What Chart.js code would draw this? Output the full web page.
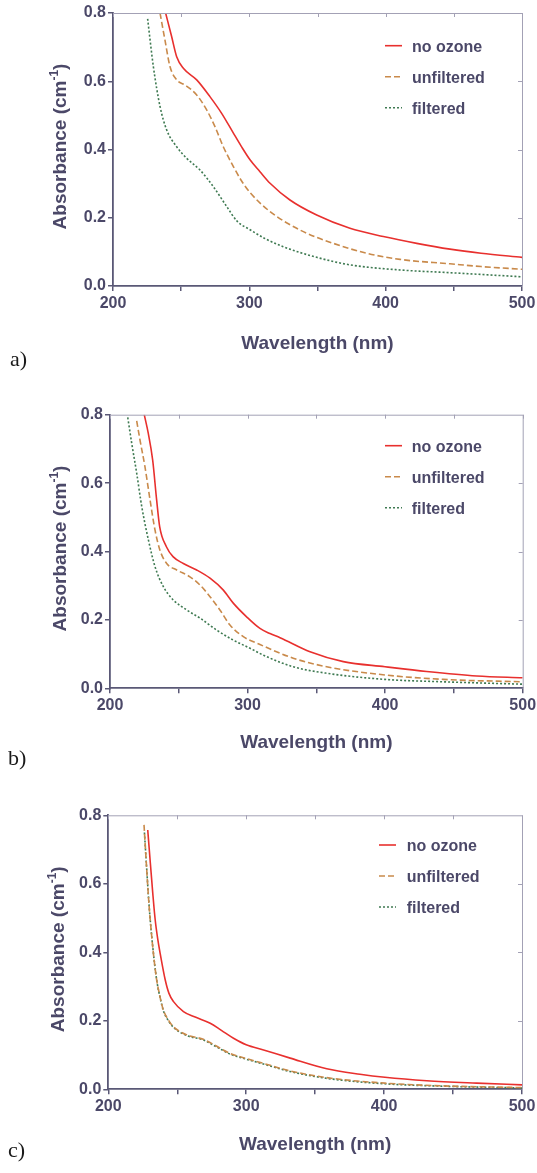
<!DOCTYPE html>
<html>
<head>
<meta charset="utf-8">
<script src="https://cdn.jsdelivr.net/npm/chart.js@4"></script>
<style>
  body { margin: 0; background: #fff; }
  #wrap { position: relative; width: 537px; height: 1173px; }
  canvas { position: absolute; left: 0; }
</style>
</head>
<body>
<div id="wrap">
  <canvas id="chartA" width="537" height="390" style="top:0px"></canvas>
  <canvas id="chartB" width="537" height="395" style="top:390px"></canvas>
  <canvas id="chartC" width="537" height="388" style="top:785px"></canvas>
</div>
<script>
// series names and tick labels
const seriesNames = ['no ozone', 'unfiltered', 'filtered'];
const xTicks = [200, 250, 300, 350, 400, 450, 500];
const xTickLabels = ['200', '', '300', '', '400', '', '500'];
const yTicks = [0, 0.2, 0.4, 0.6, 0.8];
const yTickLabels = ['0.0', '0.2', '0.4', '0.6', '0.8'];

// [wavelength nm, absorbance cm-1]
// panel a)
const aNoOzone = [[238.6,0.80],[243,0.731],[246.7,0.672],[251.6,0.638],[261.4,0.604],[271.1,0.555],[279.7,0.506],[288.3,0.448],[294,0.41],[300.5,0.370],[307.8,0.335],[315.2,0.301],[329.8,0.252],[349.4,0.208],[373.8,0.169],[398.3,0.145],[422.8,0.125],[447.2,0.108],[470,0.096],[500,0.084]];
const aUnfiltered = [[234.5,0.80],[238.1,0.721],[241.8,0.643],[246.7,0.604],[252.8,0.589],[261.4,0.560],[268.7,0.516],[274.8,0.467],[280.9,0.408],[288.3,0.350],[294,0.31],[300.5,0.274],[315.2,0.218],[337.2,0.164],[361.6,0.125],[386.1,0.096],[410.5,0.078],[447.2,0.065],[470,0.057],[500,0.049]];
const aFiltered = [[225.4,0.783],[229.6,0.643],[234.5,0.526],[239.4,0.457],[246.7,0.408],[254.1,0.374],[263.8,0.340],[273.6,0.291],[283.4,0.233],[291,0.19],[300.5,0.165],[312,0.138],[324.9,0.115],[349.4,0.084],[373.8,0.062],[410.5,0.047],[447.2,0.039],[500,0.027]];
// panel b)
const bNoOzone = [[224.9,0.80],[227.8,0.746],[231,0.668],[233.9,0.551],[236.1,0.473],[241,0.414],[245.8,0.385],[253.3,0.365],[263,0.346],[272.7,0.322],[282.4,0.287],[289.6,0.249],[299.3,0.209],[309,0.175],[316.3,0.160],[323.6,0.148],[345.4,0.107],[369.6,0.078],[399.9,0.063],[430.2,0.049],[466.6,0.036],[500,0.031]];
const bUnfiltered = [[219.4,0.782],[221.8,0.726],[225.4,0.648],[229.1,0.551],[232.7,0.463],[236.3,0.404],[241.2,0.365],[248.5,0.346],[258.1,0.326],[265.4,0.302],[272.7,0.268],[279.9,0.229],[287.2,0.185],[296.9,0.151],[309,0.128],[333.2,0.088],[357.5,0.063],[399.9,0.039],[442.3,0.026],[500,0.019]];
const bFiltered = [[212.9,0.792],[215.8,0.716],[219.4,0.629],[223.1,0.531],[227.9,0.434],[232.7,0.356],[238.8,0.297],[246.1,0.258],[255.8,0.229],[265.5,0.205],[277.6,0.170],[289.6,0.141],[301.8,0.117],[312,0.096],[333.2,0.063],[357.5,0.044],[399.9,0.026],[442.3,0.019],[500,0.012]];
// panel c)
const cNoOzone = [[228.6,0.757],[230.5,0.66],[232.3,0.57],[234,0.495],[235.8,0.44],[237.6,0.397],[241.3,0.319],[244,0.28],[247.3,0.256],[254.5,0.227],[263,0.211],[273.9,0.193],[282,0.172],[290.8,0.149],[300,0.130],[312.6,0.115],[331.9,0.091],[358.4,0.060],[382.5,0.044],[400.6,0.035],[430.9,0.025],[467.1,0.018],[500,0.013]];
const cUnfiltered = [[225.9,0.772],[227.8,0.645],[229.5,0.54],[231.5,0.446],[233.3,0.375],[235.1,0.319],[237.5,0.27],[239.9,0.232],[243.5,0.203],[247.1,0.183],[256.8,0.159],[268.9,0.146],[278,0.127],[288.2,0.105],[300,0.090],[312.3,0.076],[331.6,0.054],[358.4,0.034],[400.6,0.018],[442.7,0.010],[500,0.005]];
const cFiltered = [[226.2,0.75],[227.9,0.64],[229.6,0.535],[231.6,0.442],[233.4,0.372],[235.2,0.316],[237.6,0.267],[240,0.229],[243.6,0.2],[247.2,0.181],[256.9,0.157],[269,0.144],[278,0.125],[288.3,0.103],[300,0.088],[312.4,0.074],[331.7,0.052],[358.4,0.032],[400.6,0.016],[442.7,0.009],[500,0.004]];

const lineColors = ['#e8302e', '#c98a4b', '#3f7a52'];
const lineDashes = [[], [6, 3], [2, 2]];
const textColor = '#4b4868';
const axisColor = '#5a5876';
const frameColor = '#a3a1b5';
const tickFont = { family: "'Liberation Sans', Arial, sans-serif", size: 16, weight: 'bold' };

// frame, inward ticks, legend, titles and panel letter
const framePlugin = {
  id: 'frame',
  afterDraw: (chart, args, p) => {
    const {ctx, chartArea: area, scales} = chart;
    ctx.save();
    // top and right border
    ctx.strokeStyle = frameColor;
    ctx.lineWidth = 1;
    ctx.beginPath();
    ctx.moveTo(area.left, area.top + 0.5);
    ctx.lineTo(area.right + 0.5, area.top + 0.5);
    ctx.lineTo(area.right + 0.5, area.bottom);
    ctx.stroke();
    ctx.beginPath();
    xTicks.forEach(v => {
      const x = Math.round(scales.x.getPixelForValue(v)) + 0.5;
      ctx.moveTo(x, area.top);
      ctx.lineTo(x, area.top + 4);
    });
    yTicks.slice(1, -1).forEach(v => {
      const y = Math.round(scales.y.getPixelForValue(v)) + 0.5;
      ctx.moveTo(area.right, y);
      ctx.lineTo(area.right - 4, y);
    });
    ctx.stroke();

    // legend
    ctx.font = "bold 16px 'Liberation Sans', Arial, sans-serif";
    ctx.textBaseline = 'alphabetic';
    ctx.textAlign = 'left';
    chart.data.datasets.forEach((ds, i) => {
      const y = area.top + p.legY + i * 31;
      ctx.strokeStyle = ds.borderColor;
      ctx.lineWidth = 1.6;
      ctx.setLineDash(ds.borderDash);
      ctx.beginPath();
      ctx.moveTo(area.right - p.legLine, y);
      ctx.lineTo(area.right - p.legLine + 17, y);
      ctx.stroke();
      ctx.setLineDash([]);
      ctx.fillStyle = textColor;
      ctx.fillText(ds.label, area.right - p.legText, y + 6);
    });

    // x title
    ctx.font = "bold 19px 'Liberation Sans', Arial, sans-serif";
    ctx.textAlign = 'center';
    ctx.fillText('Wavelength (nm)', (area.left + area.right) / 2, area.bottom + p.xTitleDy);

    // y title with superscript
    const main = 'Absorbance (cm';
    const sup = '-1';
    const close = ')';
    const fMain = "bold 19px 'Liberation Sans', Arial, sans-serif";
    const fSup = "bold 12px 'Liberation Sans', Arial, sans-serif";
    ctx.font = fMain;
    const w1 = ctx.measureText(main).width;
    const w3 = ctx.measureText(close).width;
    ctx.font = fSup;
    const w2 = ctx.measureText(sup).width;
    const total = w1 + w2 + w3;
    ctx.translate(p.yTitleX, (area.top + area.bottom) / 2 - 3);
    ctx.rotate(-Math.PI / 2);
    ctx.textAlign = 'left';
    ctx.font = fMain;
    ctx.fillText(main, -total / 2, 0);
    ctx.font = fSup;
    ctx.fillText(sup, -total / 2 + w1, -8);
    ctx.font = fMain;
    ctx.fillText(close, -total / 2 + w1 + w2, 0);
    ctx.setTransform(1, 0, 0, 1, 0, 0);

    // panel letter
    ctx.font = "22px 'Liberation Serif', 'Times New Roman', serif";
    ctx.fillStyle = '#1a1a1a';
    ctx.fillText(p.letter, p.letterX, p.letterY);
    ctx.restore();
  }
};

function makeChart(id, series, p) {
  return new Chart(document.getElementById(id), {
    type: 'line',
    data: {
      datasets: series.map((d, i) => ({
        label: seriesNames[i],
        data: d.map(([x, y]) => ({x, y})),
        borderColor: lineColors[i],
        borderDash: lineDashes[i],
        borderWidth: 1.6,
        pointRadius: 0,
        cubicInterpolationMode: 'monotone',
        fill: false
      }))
    },
    options: {
      responsive: false,
      animation: false,
      events: [],
      layout: { padding: { top: p.top, right: p.right, left: 0, bottom: 0 } },
      plugins: {
        legend: { display: false },
        tooltip: { enabled: false },
        frame: p
      },
      scales: {
        x: {
          type: 'linear',
          min: 200,
          max: 500,
          afterFit: s => {
            s.height = p.xh;
            s.paddingLeft = 0;
            s.paddingRight = 0;
          },
          afterBuildTicks: s => { s.ticks = xTicks.map(v => ({value: v})); },
          ticks: {
            autoSkip: false,
            maxRotation: 0,
            padding: 3,
            color: textColor,
            font: tickFont,
            callback: (v, i) => xTickLabels[i]
          },
          grid: { drawOnChartArea: false, tickLength: 5, color: axisColor, lineWidth: 1.5 },
          border: { color: axisColor, width: 1.8 }
        },
        y: {
          min: 0,
          max: 0.8,
          afterFit: s => {
            s.width = p.left;
            s.paddingTop = 0;
            s.paddingBottom = 0;
          },
          afterBuildTicks: s => { s.ticks = yTicks.map(v => ({value: v})); },
          ticks: {
            autoSkip: false,
            padding: 2,
            color: textColor,
            font: tickFont,
            callback: (v, i) => yTickLabels[i]
          },
          grid: { drawOnChartArea: false, tickLength: 5, color: axisColor, lineWidth: 1.5 },
          border: { color: axisColor, width: 1.8 }
        }
      }
    },
    plugins: [framePlugin]
  });
}

makeChart('chartA', [aNoOzone, aUnfiltered, aFiltered], {
  top: 13, right: 15, left: 113, xh: 104,
  legY: 32.7, legLine: 137, legText: 110, xTitleDy: 63, yTitleX: 66,
  letter: 'a)', letterX: 10, letterY: 366
});
makeChart('chartB', [bNoOzone, bUnfiltered, bFiltered], {
  top: 24.7, right: 14.3, left: 110, xh: 96.7,
  legY: 31, legLine: 137.7, legText: 111, xTitleDy: 60, yTitleX: 66,
  letter: 'b)', letterX: 8, letterY: 375
});
makeChart('chartC', [cNoOzone, cUnfiltered, cFiltered], {
  top: 30.3, right: 15, left: 108.3, xh: 83.7,
  legY: 29.7, legLine: 143, legText: 115.3, xTitleDy: 61, yTitleX: 64,
  letter: 'c)', letterX: 8, letterY: 372
});
</script>
</body>
</html>
